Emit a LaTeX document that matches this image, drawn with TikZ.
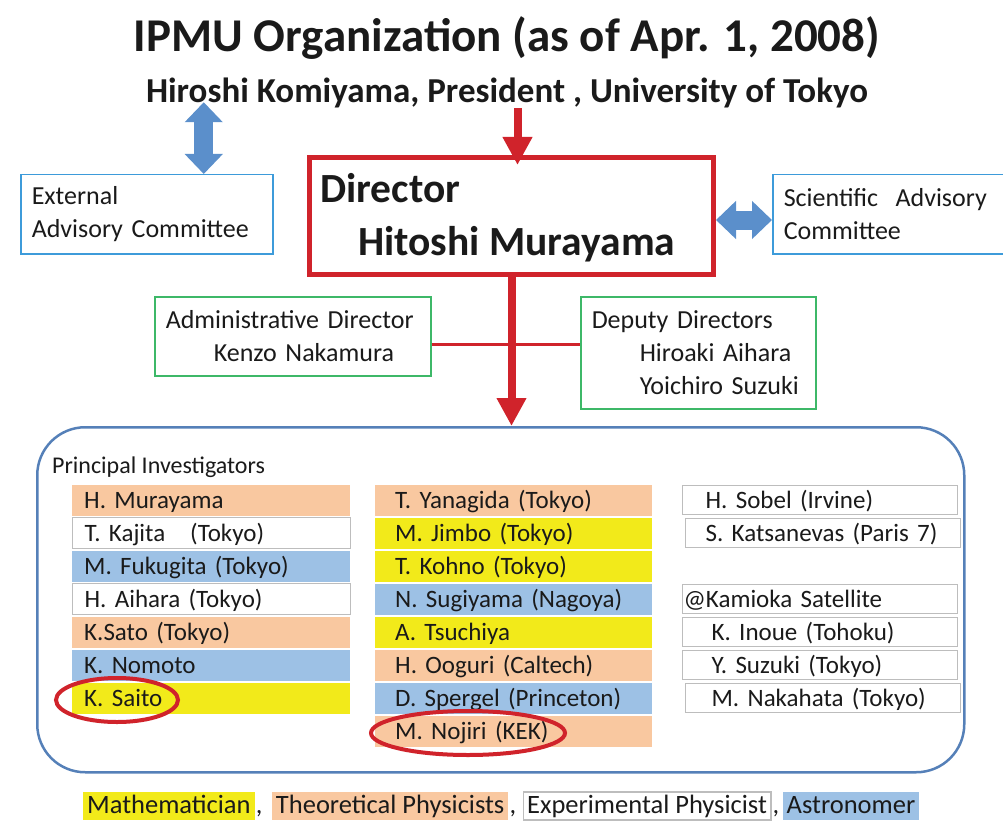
\documentclass[tikz,border=0pt]{standalone}
\usepackage{fontspec}
\setmainfont{Carlito}
\usetikzlibrary{arrows.meta,positioning,calc}
\definecolor{orgRed}{HTML}{D0232B}
\definecolor{orgBlue}{HTML}{5B8FCB}
\definecolor{orgSkyLine}{HTML}{3D9BDA}
\definecolor{orgGreen}{HTML}{3DB868}
\definecolor{orgFrame}{HTML}{5580B8}
\definecolor{orgPeach}{HTML}{F9C8A0}
\definecolor{orgYellow}{HTML}{F2EA1A}
\definecolor{orgSky}{HTML}{9DC1E5}
\definecolor{orgGray}{HTML}{BDBDBD}
\definecolor{orgInk}{HTML}{1A1A1A}
\tikzset{
  boxtxt/.style    ={font=\fontsize{26}{33}\selectfont,text=orgInk},
  skybox/.style    ={boxtxt,draw=orgSkyLine,line width=1.5pt,inner xsep=11,
                     align=left,anchor=north west},
  greenbox/.style  ={boxtxt,draw=orgGreen,line width=1.5pt,inner xsep=11,
                     align=left,anchor=north west},
  dirbox/.style    ={draw=orgRed,line width=5pt,anchor=north west,
                     minimum width=404,minimum height=117},
  dirtxt/.style    ={font=\fontsize{41.5}{50}\selectfont\bfseries,text=orgInk,
                     anchor=base west,inner sep=0},
  frame/.style     ={draw=orgFrame,line width=2.5pt,rounded corners=48pt,
                     anchor=north west},
  rowbox/.style    ={font=\fontsize{25}{30}\selectfont,text=orgInk,anchor=west,
                     align=left,text height=20pt,text depth=4pt,inner ysep=0},
  theo/.style      ={rowbox,fill=orgPeach},
  math/.style      ={rowbox,fill=orgYellow},
  astro/.style     ={rowbox,fill=orgSky},
  expt/.style      ={rowbox,draw=orgGray,line width=1.2pt,fill=white},
  legbox/.style    ={font=\fontsize{26.5}{32}\selectfont,text=orgInk,inner xsep=4,
                     minimum height=28,text height=20pt,text depth=5pt,inner ysep=0},
  blockarrow/.style={{Triangle[width=37pt,length=20pt]}-{Triangle[width=37pt,length=20pt]},
                     orgBlue,line width=19pt},
  redarrow/.style  ={-{Triangle[width=28pt,length=28pt]},orgRed,line width=8pt},
  redlink/.style   ={orgRed,line width=2.5pt},
  ring/.style      ={orgRed,line width=4pt},
}

\begin{document}
\begin{tikzpicture}[x=1pt,y=-1pt]
\useasboundingbox (0,0) rectangle (1003,821);

% heading
\node[font=\fontsize{47}{56}\selectfont\bfseries,text=orgInk] (title) at (507,38)
  {IPMU Organization (as of Apr. 1, 2008)};
\node[font=\fontsize{35}{42}\selectfont\bfseries,text=orgInk,inner sep=0] (sub) at (507,93)
  {Hiroshi Komiyama, President , University of Tokyo};

% committees and director
\node[skybox,minimum width=252,minimum height=79,text width=230] (ext) at (20,174)
  {External\\Advisory Committee};
\node[dirbox] (dir) at (307,155) {};
\node[dirtxt] (dirA) at ($(dir.north west)+(13,48)$) {Director};
\node[dirtxt] (dirB) at ($(dir.north west)+(51,100)$) {Hitoshi Murayama};
\node[skybox,minimum width=240,minimum height=79,text width=218] (sci) at (772,174)
  {Scientific\ \ Advisory\\Committee};

\draw[blockarrow] ([xshift=57,yshift=6]ext.north |- sub.south) -- ([xshift=57]ext.north);
\draw[blockarrow] ([yshift=-4]dir.east) -- ([yshift=-4]dir.east -| sci.west);
\draw[redarrow] ([xshift=6]dir.north |- sub.south) -- ([xshift=6,yshift=-10]dir.north);

% directors
\node[greenbox,minimum width=276,minimum height=79,text width=254] (adm) at (154,296)
  {Administrative Director\\\hspace*{48pt}Kenzo Nakamura};
\node[greenbox,minimum width=235,minimum height=112,text width=213] (dep) at (580,296)
  {Deputy Directors\\\hspace*{48pt}Hiroaki Aihara\\\hspace*{48pt}Yoichiro Suzuki};
\draw[redlink] ([yshift=-8]adm.east) -- ([yshift=-8]adm.east -| dep.west);

% principal investigators
\node[frame,minimum width=927,minimum height=345] (pis) at (36,426) {};
\draw[redarrow] (dir.south) -- (dir.south |- pis.north);
\node[boxtxt,anchor=west,inner sep=0,font=\fontsize{24}{29}\selectfont] (pilbl) at (52,467)
  {Principal Investigators};

\foreach \r/\name/\sty in {
  1/H. Murayama/theo,  2/T. Kajita\ \ \ (Tokyo)/expt, 3/M. Fukugita (Tokyo)/astro,
  4/H. Aihara (Tokyo)/expt, 5/K.Sato (Tokyo)/theo, 6/K. Nomoto/astro, 7/K. Saito/math}
{
  \node[\sty,minimum width=278,minimum height=31,inner xsep=12,text width=254]
    (a\r) at (72,{500+(\r-1)*33}) {\name};
}
\foreach \r/\name/\sty in {
  1/T. Yanagida (Tokyo)/theo, 2/M. Jimbo (Tokyo)/math, 3/T. Kohno (Tokyo)/math,
  4/N. Sugiyama (Nagoya)/astro, 5/A. Tsuchiya/math, 6/H. Ooguri (Caltech)/theo,
  7/D. Spergel (Princeton)/astro, 8/M. Nojiri (KEK)/theo}
{
  \node[\sty,minimum width=277,minimum height=31,inner xsep=20,text width=237]
    (b\r) at (375,{500+(\r-1)*33}) {\name};
}
\foreach \r/\x/\ind/\name in {
  1/682/23/H. Sobel (Irvine), 2/685/20/S. Katsanevas (Paris 7),
  4/682/1/@Kamioka Satellite, 5/682/29/K. Inoue (Tohoku),
  6/682/29/Y. Suzuki (Tokyo), 7/685/26/M. Nakahata (Tokyo)}
{
  \pgfmathsetmacro{\tw}{275-2*\ind}
  \node[expt,minimum width=275,minimum height=29,inner xsep=\ind,text width=\tw]
    (c\r) at (\x,{500+(\r-1)*33}) {\name};
}

% the two new members
\draw[ring] (117,700) ellipse [x radius=61,y radius=22];
\draw[ring] (468,733) ellipse [x radius=97,y radius=22];

% legend
\node[legbox,fill=orgYellow,anchor=west] (lgm) at (83,806) {Mathematician};
\node[legbox,inner xsep=1,right=0pt of lgm] (k1) {,};
\node[legbox,fill=orgPeach,right=8pt of k1] (lgt) {Theoretical Physicists};
\node[legbox,inner xsep=1,right=0pt of lgt] (k2) {,};
\node[legbox,draw=orgGray,line width=1.2pt,right=5pt of k2] (lge) {Experimental Physicist};
\node[legbox,inner xsep=1,right=0pt of lge] (k3) {,};
\node[legbox,fill=orgSky,right=2pt of k3] (lga) {Astronomer};
\end{tikzpicture}
\end{document}
